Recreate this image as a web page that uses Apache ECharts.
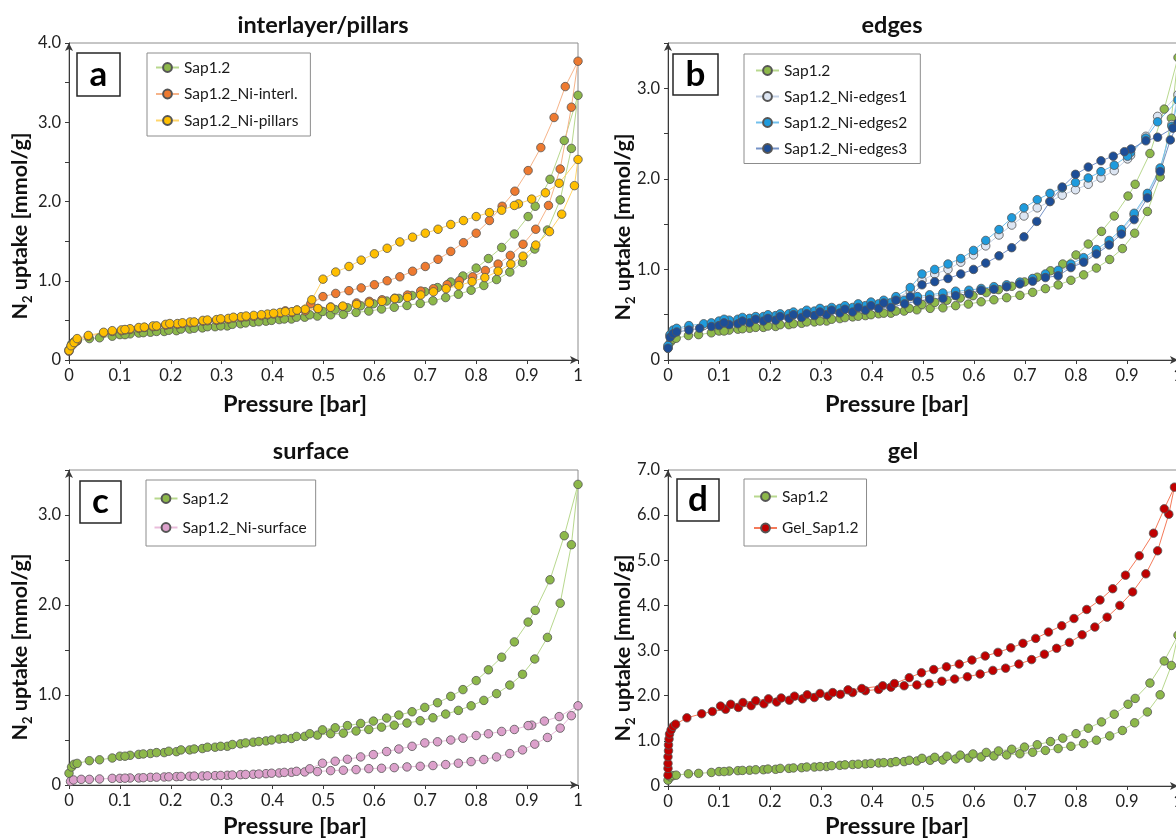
<!DOCTYPE html>
<html><head><meta charset="utf-8">
<script src="https://cdn.jsdelivr.net/npm/echarts@6/dist/echarts.min.js"></script>
<style>html,body{margin:0;padding:0;background:#fff}#c{width:1176px;height:838px}</style>
</head><body><div id="c"></div>
<script>
// ---------- DATA (pressure [bar], N2 uptake [mmol/g]); adsorption then desorption ----------
const xTickLabels = ['0','0.1','0.2','0.3','0.4','0.5','0.6','0.7','0.8','0.9','1'];
const yTickLabels = ['0','1.0','2.0','3.0','4.0','5.0','6.0','7.0'];
const panelTitles = ['interlayer/pillars','edges','surface','gel'];
const panelLetters = ['a','b','c','d'];

const sap12 = [[0,0.13],[0.005,0.20],[0.01,0.23],[0.016,0.24],[0.04,0.27],[0.06,0.28],[0.085,0.30],[0.10,0.32],[0.12,0.33],[0.137,0.34],[0.16,0.35],[0.187,0.36],[0.211,0.37],[0.237,0.39],[0.262,0.405],[0.287,0.42],[0.311,0.43],[0.337,0.457],[0.362,0.476],[0.387,0.49],[0.413,0.51],[0.437,0.517],[0.463,0.54],[0.488,0.554],[0.514,0.57],[0.539,0.576],[0.564,0.60],[0.589,0.617],[0.614,0.643],[0.639,0.665],[0.664,0.688],[0.69,0.714],[0.715,0.747],[0.74,0.788],[0.765,0.829],[0.79,0.88],[0.815,0.94],[0.84,1.015],[0.866,1.11],[0.891,1.23],[0.915,1.40],[0.94,1.64],[0.965,2.02],[0.987,2.67],[1.0,3.34],
  [0.973,2.77],[0.945,2.28],[0.916,1.94],[0.902,1.81],[0.875,1.59],[0.85,1.42],[0.824,1.28],[0.80,1.16],[0.774,1.06],[0.75,0.985],[0.724,0.914],[0.699,0.862],[0.674,0.814],[0.648,0.777],[0.624,0.744],[0.598,0.71],[0.573,0.684],[0.547,0.66],[0.523,0.636],[0.498,0.613],[0.473,0.57],[0.447,0.54],[0.423,0.517],[0.398,0.50],[0.373,0.483],[0.347,0.468],[0.321,0.45],[0.298,0.43],[0.272,0.42],[0.246,0.40],[0.22,0.39],[0.196,0.375],[0.172,0.36],[0.146,0.345],[0.11,0.32]];

const niInterl = [[0,0.11],[0.004,0.17],[0.01,0.21],[0.016,0.25],[0.038,0.30],[0.068,0.34],[0.085,0.36],[0.103,0.37],[0.12,0.385],[0.137,0.40],[0.165,0.42],[0.19,0.44],[0.213,0.45],[0.238,0.47],[0.263,0.49],[0.29,0.50],[0.313,0.515],[0.338,0.535],[0.363,0.55],[0.39,0.57],[0.415,0.59],[0.438,0.60],[0.464,0.62],[0.489,0.65],[0.514,0.67],[0.538,0.675],[0.565,0.72],[0.59,0.74],[0.615,0.76],[0.64,0.78],[0.665,0.82],[0.691,0.87],[0.716,0.90],[0.743,0.95],[0.767,1.0],[0.793,1.05],[0.818,1.13],[0.843,1.21],[0.867,1.32],[0.892,1.46],[0.917,1.65],[0.942,1.95],[0.965,2.41],[0.987,3.19],[1.0,3.77],
  [0.975,3.45],[0.953,3.06],[0.927,2.68],[0.902,2.39],[0.876,2.13],[0.851,1.94],[0.826,1.76],[0.80,1.60],[0.775,1.48],[0.75,1.37],[0.725,1.27],[0.70,1.18],[0.675,1.12],[0.65,1.05],[0.625,1.0],[0.60,0.95],[0.574,0.91],[0.55,0.875],[0.524,0.84],[0.499,0.80],[0.475,0.71],[0.448,0.63],[0.425,0.62],[0.402,0.58],[0.378,0.56],[0.348,0.545],[0.323,0.53],[0.298,0.51],[0.272,0.495],[0.246,0.475],[0.223,0.46],[0.198,0.45],[0.172,0.425],[0.148,0.41],[0.11,0.38]];

const niPillars = [[0,0.12],[0.004,0.18],[0.01,0.22],[0.016,0.27],[0.038,0.31],[0.068,0.35],[0.085,0.37],[0.103,0.38],[0.12,0.395],[0.137,0.41],[0.165,0.43],[0.19,0.45],[0.213,0.46],[0.238,0.48],[0.263,0.50],[0.29,0.51],[0.313,0.525],[0.338,0.546],[0.363,0.563],[0.39,0.58],[0.415,0.60],[0.438,0.61],[0.464,0.64],[0.489,0.65],[0.514,0.665],[0.538,0.68],[0.565,0.70],[0.59,0.72],[0.615,0.74],[0.64,0.775],[0.665,0.79],[0.691,0.82],[0.716,0.86],[0.741,0.90],[0.766,0.94],[0.792,0.99],[0.817,1.04],[0.843,1.12],[0.868,1.21],[0.892,1.31],[0.917,1.45],[0.944,1.62],[0.968,1.84],[0.993,2.20],[1.0,2.53],
  [0.963,2.23],[0.936,2.11],[0.909,2.03],[0.883,1.97],[0.875,1.95],[0.85,1.89],[0.826,1.86],[0.80,1.81],[0.775,1.76],[0.75,1.71],[0.725,1.65],[0.70,1.60],[0.675,1.55],[0.65,1.49],[0.625,1.41],[0.60,1.34],[0.574,1.26],[0.55,1.18],[0.524,1.11],[0.499,1.02],[0.477,0.76],[0.448,0.63],[0.425,0.61],[0.402,0.59],[0.378,0.572],[0.348,0.555],[0.323,0.54],[0.298,0.52],[0.272,0.505],[0.246,0.48],[0.223,0.47],[0.198,0.46],[0.172,0.43],[0.148,0.415],[0.11,0.385]];

const niEdges1 = [[0,0.15],[0.004,0.27],[0.01,0.31],[0.017,0.33],[0.041,0.36],[0.07,0.38],[0.085,0.39],[0.10,0.41],[0.12,0.42],[0.137,0.43],[0.16,0.44],[0.187,0.46],[0.211,0.47],[0.237,0.49],[0.262,0.50],[0.287,0.52],[0.311,0.53],[0.337,0.55],[0.362,0.56],[0.387,0.58],[0.413,0.60],[0.437,0.61],[0.463,0.64],[0.489,0.68],[0.513,0.70],[0.539,0.72],[0.564,0.74],[0.59,0.75],[0.614,0.77],[0.639,0.79],[0.664,0.81],[0.69,0.85],[0.715,0.89],[0.74,0.93],[0.765,0.97],[0.79,1.03],[0.815,1.10],[0.84,1.19],[0.865,1.29],[0.889,1.42],[0.914,1.60],[0.94,1.82],[0.965,2.10],[0.988,2.60],[1.0,2.93],
  [0.96,2.69],[0.937,2.47],[0.907,2.26],[0.901,2.22],[0.875,2.09],[0.849,2.01],[0.824,1.94],[0.799,1.88],[0.773,1.82],[0.749,1.75],[0.724,1.68],[0.698,1.59],[0.674,1.49],[0.649,1.38],[0.623,1.26],[0.599,1.16],[0.574,1.08],[0.549,1.00],[0.523,0.95],[0.498,0.88],[0.475,0.76],[0.447,0.68],[0.423,0.64],[0.398,0.62],[0.373,0.60],[0.347,0.58],[0.321,0.56],[0.298,0.55],[0.272,0.53],[0.246,0.51],[0.22,0.50],[0.196,0.48],[0.172,0.47],[0.146,0.45],[0.11,0.43]];

const niEdges2 = [[0,0.16],[0.004,0.28],[0.01,0.33],[0.017,0.35],[0.041,0.38],[0.07,0.40],[0.085,0.41],[0.10,0.43],[0.12,0.44],[0.137,0.45],[0.16,0.46],[0.187,0.48],[0.211,0.49],[0.237,0.51],[0.262,0.52],[0.287,0.54],[0.311,0.55],[0.337,0.57],[0.362,0.58],[0.387,0.60],[0.413,0.62],[0.437,0.63],[0.463,0.66],[0.489,0.70],[0.513,0.72],[0.539,0.74],[0.564,0.76],[0.59,0.77],[0.614,0.79],[0.639,0.81],[0.664,0.83],[0.69,0.86],[0.715,0.90],[0.74,0.95],[0.765,0.99],[0.79,1.06],[0.815,1.13],[0.84,1.22],[0.865,1.32],[0.889,1.44],[0.914,1.62],[0.94,1.84],[0.965,2.12],[0.988,2.58],[1.0,2.87],
  [0.96,2.63],[0.937,2.45],[0.907,2.29],[0.901,2.25],[0.875,2.15],[0.849,2.08],[0.824,2.01],[0.799,1.96],[0.773,1.90],[0.749,1.84],[0.724,1.77],[0.698,1.68],[0.674,1.57],[0.649,1.44],[0.623,1.32],[0.599,1.21],[0.574,1.12],[0.549,1.06],[0.523,1.00],[0.498,0.95],[0.475,0.80],[0.447,0.70],[0.423,0.66],[0.398,0.64],[0.373,0.62],[0.347,0.60],[0.321,0.58],[0.298,0.57],[0.272,0.55],[0.246,0.53],[0.22,0.51],[0.196,0.50],[0.172,0.48],[0.146,0.47],[0.11,0.45]];

const niEdges3 = [[0,0.13],[0.004,0.25],[0.01,0.29],[0.017,0.31],[0.041,0.33],[0.062,0.35],[0.085,0.37],[0.10,0.38],[0.12,0.39],[0.137,0.40],[0.16,0.41],[0.187,0.43],[0.211,0.44],[0.237,0.46],[0.262,0.47],[0.287,0.49],[0.311,0.50],[0.337,0.52],[0.362,0.53],[0.387,0.55],[0.413,0.57],[0.437,0.58],[0.464,0.62],[0.489,0.65],[0.513,0.67],[0.539,0.68],[0.564,0.71],[0.59,0.73],[0.614,0.77],[0.639,0.78],[0.664,0.81],[0.69,0.84],[0.715,0.87],[0.74,0.91],[0.765,0.93],[0.79,1.02],[0.815,1.08],[0.84,1.17],[0.865,1.27],[0.889,1.39],[0.914,1.55],[0.94,1.79],[0.965,2.08],[0.985,2.43],[1.0,2.62],
  [0.99,2.56],[0.96,2.46],[0.937,2.42],[0.908,2.33],[0.895,2.30],[0.873,2.25],[0.849,2.20],[0.824,2.13],[0.799,2.05],[0.773,1.91],[0.749,1.75],[0.723,1.53],[0.698,1.36],[0.674,1.24],[0.649,1.15],[0.623,1.07],[0.599,1.00],[0.574,0.95],[0.549,0.90],[0.523,0.865],[0.498,0.83],[0.475,0.70],[0.447,0.66],[0.423,0.63],[0.398,0.60],[0.373,0.58],[0.347,0.56],[0.321,0.55],[0.298,0.53],[0.272,0.51],[0.246,0.50],[0.22,0.48],[0.196,0.46],[0.172,0.45],[0.146,0.43],[0.11,0.41]];

const niSurface = [[0.003,0.04],[0.009,0.056],[0.024,0.063],[0.04,0.063],[0.06,0.067],[0.085,0.074],[0.10,0.074],[0.12,0.078],[0.137,0.078],[0.16,0.085],[0.187,0.089],[0.211,0.093],[0.237,0.097],[0.262,0.10],[0.287,0.104],[0.311,0.108],[0.337,0.115],[0.362,0.119],[0.387,0.126],[0.413,0.134],[0.437,0.141],[0.463,0.145],[0.488,0.149],[0.514,0.16],[0.539,0.164],[0.564,0.171],[0.589,0.182],[0.614,0.186],[0.639,0.193],[0.664,0.201],[0.69,0.208],[0.715,0.216],[0.74,0.227],[0.765,0.242],[0.79,0.26],[0.815,0.283],[0.84,0.312],[0.866,0.349],[0.891,0.39],[0.915,0.454],[0.94,0.528],[0.965,0.632],[0.987,0.77],[1.0,0.88],
  [0.963,0.76],[0.934,0.71],[0.909,0.665],[0.902,0.66],[0.875,0.617],[0.85,0.595],[0.824,0.569],[0.80,0.55],[0.774,0.52],[0.75,0.50],[0.724,0.48],[0.699,0.468],[0.674,0.43],[0.648,0.40],[0.624,0.372],[0.598,0.338],[0.573,0.312],[0.547,0.286],[0.523,0.264],[0.498,0.242],[0.473,0.18],[0.447,0.152],[0.423,0.14],[0.398,0.131],[0.373,0.122],[0.347,0.117],[0.321,0.111],[0.298,0.106],[0.272,0.102],[0.246,0.099],[0.22,0.095],[0.196,0.091],[0.172,0.087],[0.146,0.081],[0.11,0.076]];

const gelSap12 = [[0,0.24],[0,0.39],[0,0.50],[0,0.65],[0.001,0.78],[0.001,0.91],[0.002,1.04],[0.003,1.15],[0.006,1.24],[0.01,1.32],[0.015,1.37],[0.037,1.51],[0.066,1.60],[0.087,1.65],[0.113,1.70],[0.138,1.74],[0.163,1.78],[0.188,1.82],[0.213,1.86],[0.238,1.90],[0.264,1.93],[0.287,1.96],[0.314,1.99],[0.338,2.03],[0.362,2.07],[0.387,2.11],[0.413,2.14],[0.437,2.19],[0.463,2.22],[0.488,2.24],[0.512,2.27],[0.537,2.32],[0.562,2.37],[0.587,2.42],[0.612,2.48],[0.637,2.56],[0.662,2.61],[0.688,2.70],[0.713,2.80],[0.738,2.92],[0.762,3.05],[0.787,3.18],[0.812,3.35],[0.837,3.52],[0.861,3.74],[0.886,4.00],[0.911,4.30],[0.937,4.70],[0.96,5.21],[0.982,6.02],[0.993,6.62],
  [0.973,6.14],[0.952,5.60],[0.924,5.10],[0.897,4.67],[0.872,4.37],[0.847,4.12],[0.821,3.91],[0.796,3.71],[0.772,3.55],[0.746,3.41],[0.721,3.27],[0.696,3.16],[0.672,3.06],[0.647,2.96],[0.622,2.88],[0.596,2.79],[0.571,2.70],[0.546,2.64],[0.521,2.58],[0.497,2.51],[0.473,2.40],[0.444,2.27],[0.421,2.22],[0.38,2.16],[0.353,2.13],[0.323,2.07],[0.298,2.05],[0.273,2.02],[0.248,1.99],[0.222,1.95],[0.197,1.93],[0.172,1.89],[0.147,1.85],[0.123,1.81],[0.103,1.77]];

const seriesNames = ['Sap1.2','Sap1.2_Ni-interl.','Sap1.2_Ni-pillars','Sap1.2_Ni-edges1','Sap1.2_Ni-edges2','Sap1.2_Ni-edges3','Sap1.2_Ni-surface','Gel_Sap1.2'];
const seriesData = [sap12, niInterl, niPillars, niEdges1, niEdges2, niEdges3, niSurface, gelSap12];
const panelSeries = [[0,1,2],[0,3,4,5],[0,6],[0,7]];
const yMax = [4, 3.5, 3.5, 7];
const yStep = [0.5, 0.5, 0.5, 1];

// ---------- STYLE ----------
const FONT = 'Lato';
const fills = ['#8DB84A','#EE7A30','#FFBF00','#DCE5F2','#1E9BDD','#1D4E97','#DCA0CB','#C00000'];
const lines = ['#B8D88E','#F6B48A','#FFD56A','#C5D2E6','#72C0EC','#7592C7','#E9BCDB','#F47A5A'];
const grids = [
  {left:69, top:43, width:509, height:317},
  {left:668, top:43, width:510, height:317},
  {left:69, top:470, width:509, height:315},
  {left:668, top:470, width:510, height:316}
];
const legendPos = [
  {left:147, top:53, padding:[6.5,12,7.5,8], itemGap:10.5},
  {left:744, top:54, padding:[8.5,13,7,11], itemGap:10},
  {left:146, top:480, padding:[10.5,9,10.5,7.5], itemGap:13},
  {left:744, top:479, padding:[9.5,8,10,9], itemGap:15.5}
];
const titlePos = [[323,25],[892,25],[311,451],[903,451]];
const xNamePos = [[295,404],[897,404],[295,826],[897,826]];
const yNamePos = [[20,226],[623,227],[20,647],[623,648]];
const letterBox = [[77,53,43,43],[673,54,45,41],[80,481,41,42],[677,479,42,42]];

const axisColor = '#3a3a3a';
const xAxes = [], yAxes = [], series = [], legends = [], graphics = [];
for (let p = 0; p < 4; p++) {
  xAxes.push({
    type:'value', gridIndex:p, min:0, max:1, interval:0.1,
    axisLine:{show:true, lineStyle:{color:axisColor, width:1}, symbol:['none','arrow'], symbolSize:[6,8]},
    axisTick:{show:true, length:4, lineStyle:{color:axisColor}},
    axisLabel:{fontFamily:FONT, fontSize:16.5, color:'#222', margin:7, hideOverlap:false, showMinLabel:true, showMaxLabel:true,
      formatter:v => xTickLabels[Math.round(v*10)]},
    splitLine:{show:false}
  });
  yAxes.push({
    type:'value', gridIndex:p, min:0, max:yMax[p], interval:yStep[p],
    axisLine:{show:true, lineStyle:{color:axisColor, width:1}, symbol:['none','arrow'], symbolSize:[6,8]},
    axisTick:{show:true, length:4, lineStyle:{color:axisColor}},
    axisLabel:{fontFamily:FONT, fontSize:16.5, color:'#222', margin:8, hideOverlap:false, showMinLabel:true, showMaxLabel:true,
      formatter:v => { const k = Math.round(v*1000); return (k % 1000 === 0) ? yTickLabels[k/1000] : ''; }},
    splitLine:{show:false}
  });
  panelSeries[p].forEach(si => {
    series.push({
      type:'line', name:seriesNames[si], xAxisIndex:p, yAxisIndex:p, data:seriesData[si],
      symbol:'circle', symbolSize:8.5, showSymbol:true, clip:false, smooth:false,
      lineStyle:{color:lines[si], width:1},
      itemStyle:{color:fills[si], borderColor:'#555', borderWidth:0.8},
      emphasis:{disabled:true}, silent:true, z: 2
    });
  });
  legends.push(Object.assign({
    orient:'vertical', selectedMode:false,
    data:panelSeries[p].map(si => seriesNames[si]),
    itemWidth:23, itemHeight:11,
    backgroundColor:'#fff', borderColor:'#8c8c8c', borderWidth:1, borderRadius:0,
    textStyle:{fontFamily:FONT, fontSize:15.5, color:'#1a1a1a'}
  }, legendPos[p]));
  graphics.push({type:'text', x:titlePos[p][0], y:titlePos[p][1], z:100,
    style:{text:panelTitles[p], font:'bold 23.5px ' + FONT, fill:'#111', align:'center', verticalAlign:'middle', textAlign:'center', textVerticalAlign:'middle'}});
  graphics.push({type:'text', x:xNamePos[p][0], y:xNamePos[p][1], z:100,
    style:{text:'Pressure [bar]', font:'bold 23.5px ' + FONT, fill:'#111', align:'center', verticalAlign:'middle', textAlign:'center', textVerticalAlign:'middle'}});
  graphics.push({type:'text', x:yNamePos[p][0], y:yNamePos[p][1], rotation:Math.PI/2, z:100,
    style:{text:'{n|N}{s|2}{n| uptake [mmol/g]}', align:'center', verticalAlign:'middle', textAlign:'center', textVerticalAlign:'middle',
      rich:{n:{font:'bold 21.5px ' + FONT, fill:'#111', lineHeight:26, verticalAlign:'middle'},
            s:{font:'bold 13px ' + FONT, fill:'#111', lineHeight:28, verticalAlign:'bottom'}}}});
  const b = letterBox[p];
  graphics.push({type:'rect', z:100, shape:{x:b[0], y:b[1], width:b[2], height:b[3]},
    style:{fill:'#fff', stroke:'#262626', lineWidth:1.5}});
  graphics.push({type:'text', z:101, x:b[0]+b[2]/2, y:b[1]+b[3]/2,
    style:{text:panelLetters[p], font:'bold 35px ' + FONT, fill:'#000', align:'center', verticalAlign:'middle', textAlign:'center', textVerticalAlign:'middle'}});
}

const chart = echarts.init(document.getElementById('c'), null, {renderer:'canvas'});
chart.setOption({
  animation:false,
  backgroundColor:'#fff',
  grid: grids.map(g => Object.assign({show:true, borderColor:'#8c8c8c', borderWidth:1, backgroundColor:'transparent', containLabel:false, outerBoundsMode:'none'}, g)),
  xAxis:xAxes, yAxis:yAxes, series:series, legend:legends, graphic:graphics
});
</script></body></html>
